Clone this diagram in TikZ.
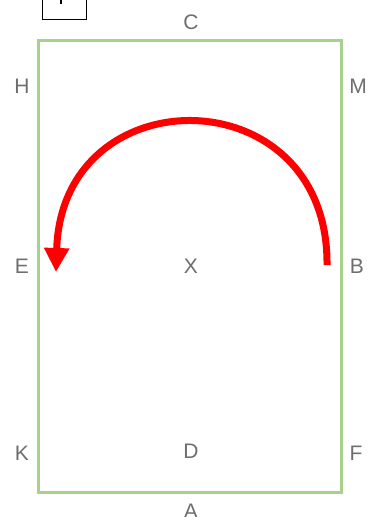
\documentclass[tikz,border=0pt]{standalone}
\usepackage{fontspec}
\setmainfont{Liberation Sans}
\usetikzlibrary{arrows.meta}
\definecolor{arena}{RGB}{169,209,142}
\definecolor{lbl}{RGB}{110,110,110}
\definecolor{arr}{RGB}{255,0,0}
\begin{document}
\begin{tikzpicture}[x=1pt,y=-1pt,
  letter/.style={text=lbl,font=\fontsize{21}{24}\selectfont,inner sep=0pt,anchor=center},
  arenabox/.style={draw=arena,line width=3pt},
  turn/.style={draw=arr,line width=7pt,-{Triangle[length=24pt,width=24pt]}}]
\useasboundingbox (0,0) rectangle (369,517);
\begin{scope}
\clip (0,0) rectangle (369,517);
\draw[black,line width=1pt] (42,-20) rectangle (86,19);
\draw[black,line width=2.5pt] (61,-2) -- (61,4);
\end{scope}
\draw[arenabox] (38,40) rectangle (341,492);
\node[letter] (C) at (191,22) {C};
\node[letter] (H) at (22,86) {H};
\node[letter] (M) at (358,86) {M};
\node[letter] (E) at (22,266) {E};
\node[letter] (X) at (191,266) {X};
\node[letter] (B) at (357,266) {B};
\node[letter] (K) at (22,453) {K};
\node[letter] (D) at (191,451) {D};
\node[letter] (F) at (356,453) {F};
\node[letter] (A) at (191,511) {A};
\coordinate (s) at (327,265);
\coordinate (t) at (56,272);
\draw[turn] (s) .. controls (329,76) and (62,74) .. (t);
\end{tikzpicture}
\end{document}
